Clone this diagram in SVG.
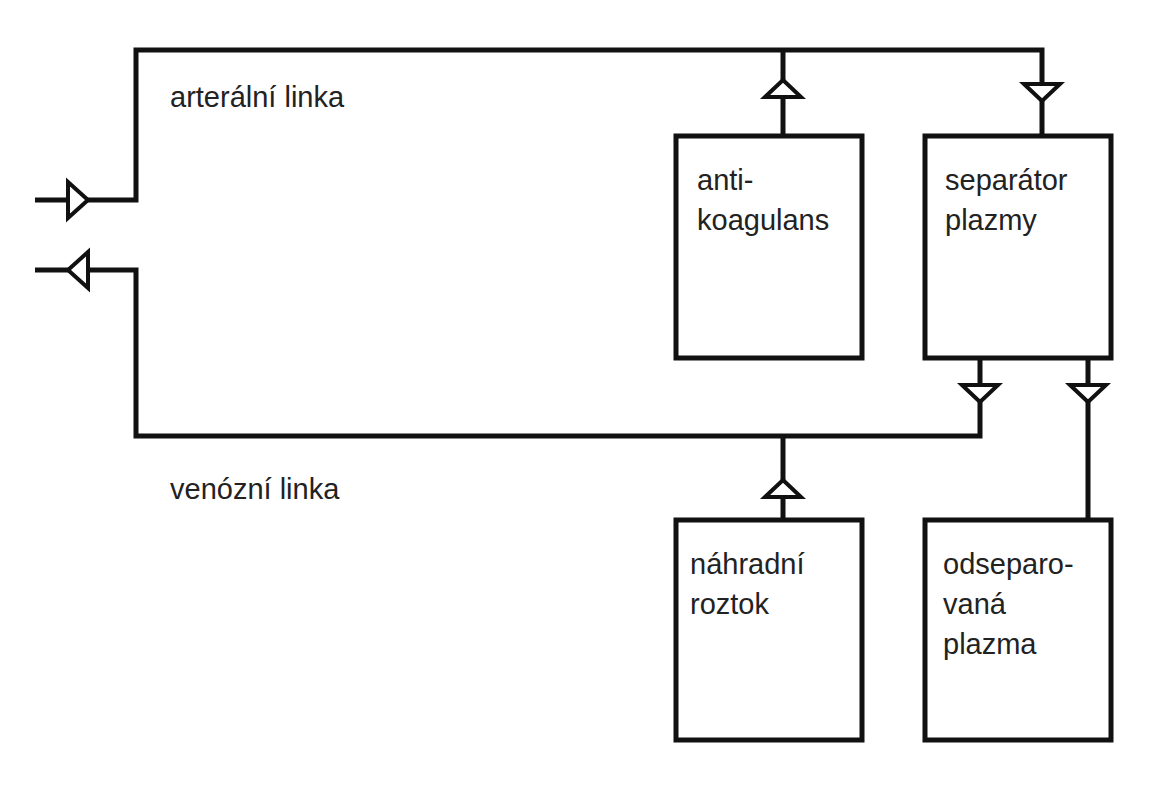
<svg xmlns="http://www.w3.org/2000/svg" width="1168" height="800" viewBox="0 0 1168 800">
<style>
.l{fill:none;stroke:#111;stroke-width:5}
.a{fill:#fff;stroke:#111;stroke-width:4;stroke-linejoin:miter}
.b{fill:#fff;stroke:#111;stroke-width:5}
text{font-family:"Liberation Sans",Arial,sans-serif;font-size:29px;fill:#222}
</style>
<rect width="1168" height="800" fill="#fff"/>
<g id="connectors">
<polyline class="l" points="35,200 136,200 136,50 1042,50 1042,136"/>
<line class="l" x1="783" y1="50" x2="783" y2="136"/>
<polyline class="l" points="35,270 136,270 136,436 980,436 980,358"/>
<line class="l" x1="783" y1="436" x2="783" y2="520"/>
<line class="l" x1="1088" y1="358" x2="1088" y2="520"/>
<polygon class="a" points="68,182 88,200 68,218"/>
<polygon class="a" points="88,252 68,270 88,288"/>
<polygon class="a" points="765,97 783,80 801,97"/>
<polygon class="a" points="1024,84 1042,101 1060,84"/>
<polygon class="a" points="962,385 980,402 998,385"/>
<polygon class="a" points="1070,385 1088,402 1106,385"/>
<polygon class="a" points="765,497 783,480 801,497"/>
</g>
<text x="170" y="107">arterální linka</text>
<text x="170" y="499">venózní linka</text>
<g id="antikoagulans"><rect class="b" x="676" y="136" width="186" height="222"/><text x="697" y="190">anti-</text><text x="697" y="230">koagulans</text></g>
<g id="separator"><rect class="b" x="925" y="136" width="186" height="222"/><text x="945" y="190">separátor</text><text x="945" y="230">plazmy</text></g>
<g id="nahradni"><rect class="b" x="676" y="520" width="186" height="220"/><text x="690" y="574">náhradní</text><text x="690" y="614">roztok</text></g>
<g id="odseparovana"><rect class="b" x="925" y="520" width="186" height="220"/><text x="943" y="574">odseparo-</text><text x="943" y="614">vaná</text><text x="943" y="654">plazma</text></g>
</svg>
